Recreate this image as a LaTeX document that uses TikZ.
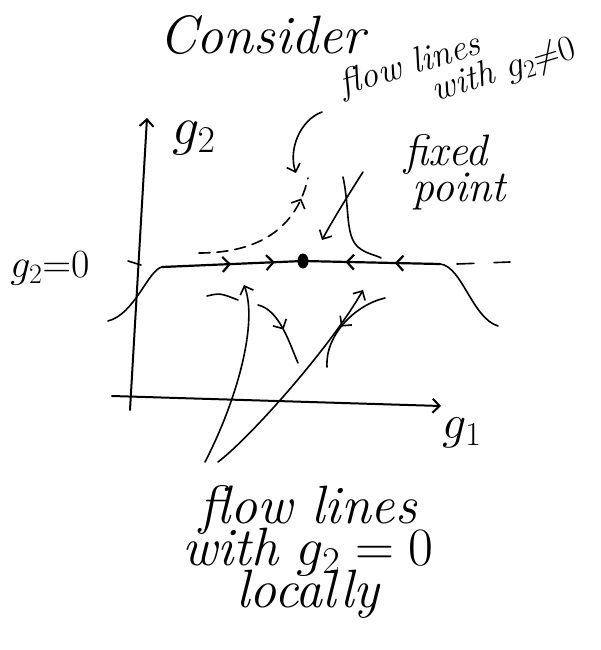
\RequirePackage{fix-cm}
\documentclass[tikz,border=0pt]{standalone}
\usepackage{fontspec}
\usepackage{amsmath,amssymb}
\usetikzlibrary{arrows.meta,decorations.markings,positioning}

\tikzset{
	hand/.style={font=\fontsize{#1}{#1}\selectfont\itshape, inner sep=1pt, align=center},
	flow/.style={line width=1.6pt, line cap=round, line join=round},
	tip/.style={-{Straight Barb[length=7pt,width=14pt]}},
	midarrow/.style={postaction={decorate, decoration={markings, mark=at position #1 with {\arrow{Straight Barb[length=7pt,width=15pt]}}}}}
}

\begin{document}
\begin{tikzpicture}[x=1pt,y=-1pt]
		\useasboundingbox (0,0) rectangle (600,650);

		\node[hand=54] (consider) at (262,35) {Consider};
		\node[hand=36, rotate=17, align=left] (topnote) at (458,68) {flow lines\\[-4pt]\hspace*{2.4em}with $g_2{\neq}0$};
		\node[hand=44] (fixed) at (446,172) {fixed\\[-8pt]\hspace*{0.6em}point};
		\node[hand=54] (gtwo) at (194,138) {$g_2$};
		\node[hand=40] (gzero) at (50,268) {$g_2{=}0$};
		\node[hand=48] (gone) at (462,433) {$g_1$};
		\node[hand=54] (bottom) at (308,552) {flow lines\\[-12pt]with $g_2=0$\\[-12pt]locally};

		\coordinate (fp) at (303,261);
		\coordinate (ybot) at (130,410);
		\coordinate (ytop) at (147,118);
		\coordinate (xleft) at (112,396);
		\coordinate (xright) at (441,406);
		\coordinate (lft) at (162,267);
		\coordinate (rgt) at (440,264);
		\coordinate (dend) at (510,262);
		\coordinate (p1) at (322,112);
		\coordinate (p2) at (363,172);
		\coordinate (b1) at (205,462);
		\coordinate (b2) at (218,462);

		\draw[flow, line width=2pt, tip] (ybot) -- (ytop);
		\draw[flow, line width=2pt, tip] (xleft) -- (xright);
		\draw[flow] (128,261) -- (141,265);

		\draw[flow, line width=2.2pt, midarrow=0.49, midarrow=0.8] (lft) -- (fp);
		\draw[flow, line width=2.2pt, midarrow=0.33, midarrow=0.69] (rgt) -- (fp);
		\draw[flow, dash pattern=on 17pt off 20pt] ([xshift=17pt]rgt) -- (dend);
		\fill (fp) ellipse (5.5 and 7.5);

		\draw[flow] (108,321) .. controls (135,314) and (148,270) .. (lft);
		\draw[flow] (rgt) .. controls (462,266) and (472,318) .. (498,326);

		\draw[flow, dash pattern=on 11pt off 7pt, midarrow=0.85] (199,253) .. controls (250,253) and (295,235) .. (308,178);
		\draw[flow] (343,177) .. controls (350,210) and (345,235) .. (358,247) .. controls (366,254) and (376,255) .. (381,258);
		\draw[flow, tip] (p1) .. controls (300,120) and (288,150) .. (296,173);
		\draw[flow, tip] (p2) .. controls (345,200) and (330,225) .. (322,240);

		\draw[flow, tip] (b1) .. controls (238,398) and (258,322) .. (244,285);
		\draw[flow, tip] (b2) .. controls (252,436) and (332,345) .. (363,290);
		\draw[flow] (207,296) .. controls (220,293) .. (238,300);
		\draw[flow, midarrow=0.5] (258,305) .. controls (280,310) and (290,345) .. (298,363);
		\draw[flow, midarrow=0.55] (385,298) .. controls (355,305) and (325,335) .. (327,367);
	\end{tikzpicture}
\end{document}
